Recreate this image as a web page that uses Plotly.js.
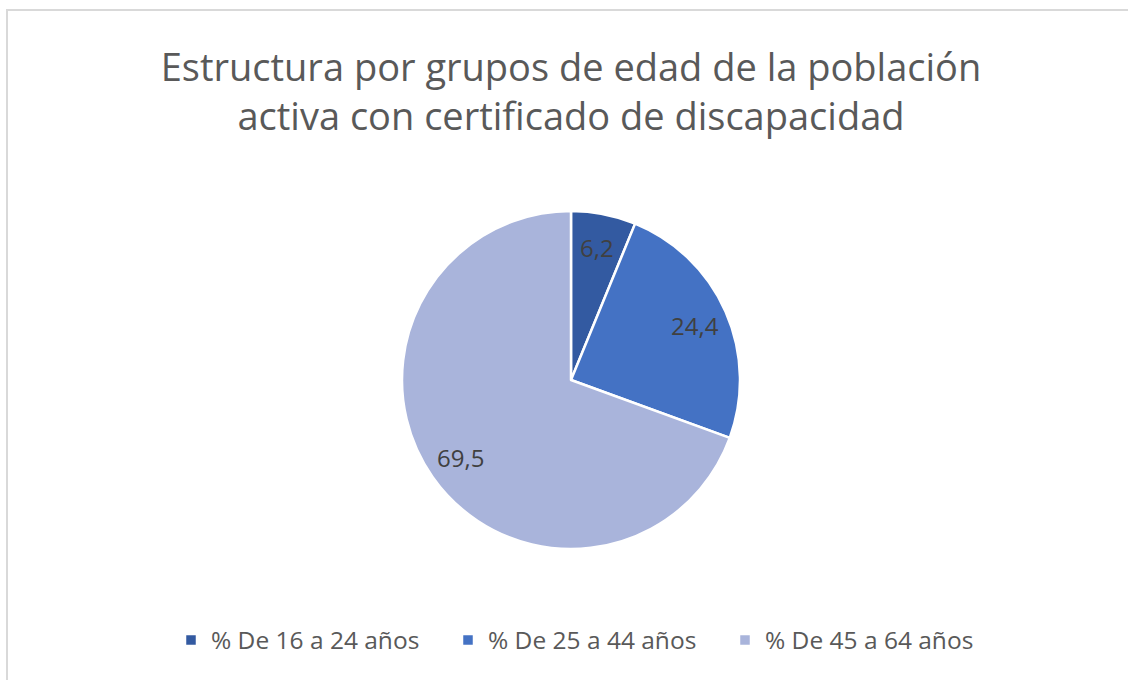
<!DOCTYPE html>
<html>
<head>
<meta charset="utf-8">
<script src="https://cdn.plot.ly/plotly-3.0.1.min.js"></script>
<style>
html,body{margin:0;padding:0;background:#fff;}
#chart{width:1128px;height:680px;}
</style>
</head>
<body>
<div id="chart"></div>
<script>
const categories = ["% De 16 a 24 años", "% De 25 a 44 años", "% De 45 a 64 años"];
const values = [6.2, 24.4, 69.5];
const colors = ["#335AA1", "#4472C4", "#A9B4DB"];
const titleText = "Estructura por grupos de edad de la población<br>activa con certificado de discapacidad";

const W = 1128, H = 680;
const cx = 571, cy = 380, r = 169;
const labelRadius = 0.8;

const trace = {
  type: "pie",
  labels: categories,
  values: values,
  sort: false,
  direction: "clockwise",
  rotation: 0,
  marker: {colors: colors, line: {color: "#ffffff", width: 2.5}},
  textinfo: "none",
  hoverinfo: "label+value",
  domain: {x: [(cx - r) / W, (cx + r) / W], y: [(H - cy - r) / H, (H - cy + r) / H]}
};

// data labels placed at the middle angle of each slice (derived from values)
const total = values.reduce((a, b) => a + b, 0);
let cum = 0;
const annotations = values.map(v => {
  const mid = (cum + v / 2) / total * 2 * Math.PI;
  cum += v;
  const px = cx + labelRadius * r * Math.sin(mid);
  const py = cy - labelRadius * r * Math.cos(mid);
  return {
    xref: "paper", yref: "paper",
    x: px / W, y: 1 - py / H,
    xanchor: "center", yanchor: "middle",
    text: v.toFixed(1).replace(".", ","),
    showarrow: false,
    font: {family: "Open Sans, sans-serif", size: 24, color: "#404040"}
  };
});

const layout = {
  width: W, height: H,
  margin: {l: 0, r: 0, t: 0, b: 0, autoexpand: false},
  paper_bgcolor: "#ffffff",
  separators: ",.",
  title: {
    text: titleText,
    font: {family: "Open Sans, sans-serif", size: 38, color: "#595959"},
    x: cx / W, xanchor: "center",
    y: 1 - 81 / H, yanchor: "top"
  },
  showlegend: true,
  legend: {
    orientation: "h",
    x: 171 / W, xanchor: "left",
    y: 1 - 640 / H, yanchor: "middle",
    font: {family: "Open Sans, sans-serif", size: 24.5, color: "#595959"},
    entrywidth: 232, entrywidthmode: "pixels",
    traceorder: "normal"
  },
  annotations: annotations,
  shapes: [{
    type: "rect", xref: "paper", yref: "paper",
    x0: 7 / W, x1: 1.05, y0: -0.05, y1: 1 - 10 / H,
    line: {color: "#d9d9d9", width: 2}, layer: "above"
  }]
};

Plotly.newPlot("chart", [trace], layout, {displayModeBar: false, staticPlot: true});
</script>
</body>
</html>
